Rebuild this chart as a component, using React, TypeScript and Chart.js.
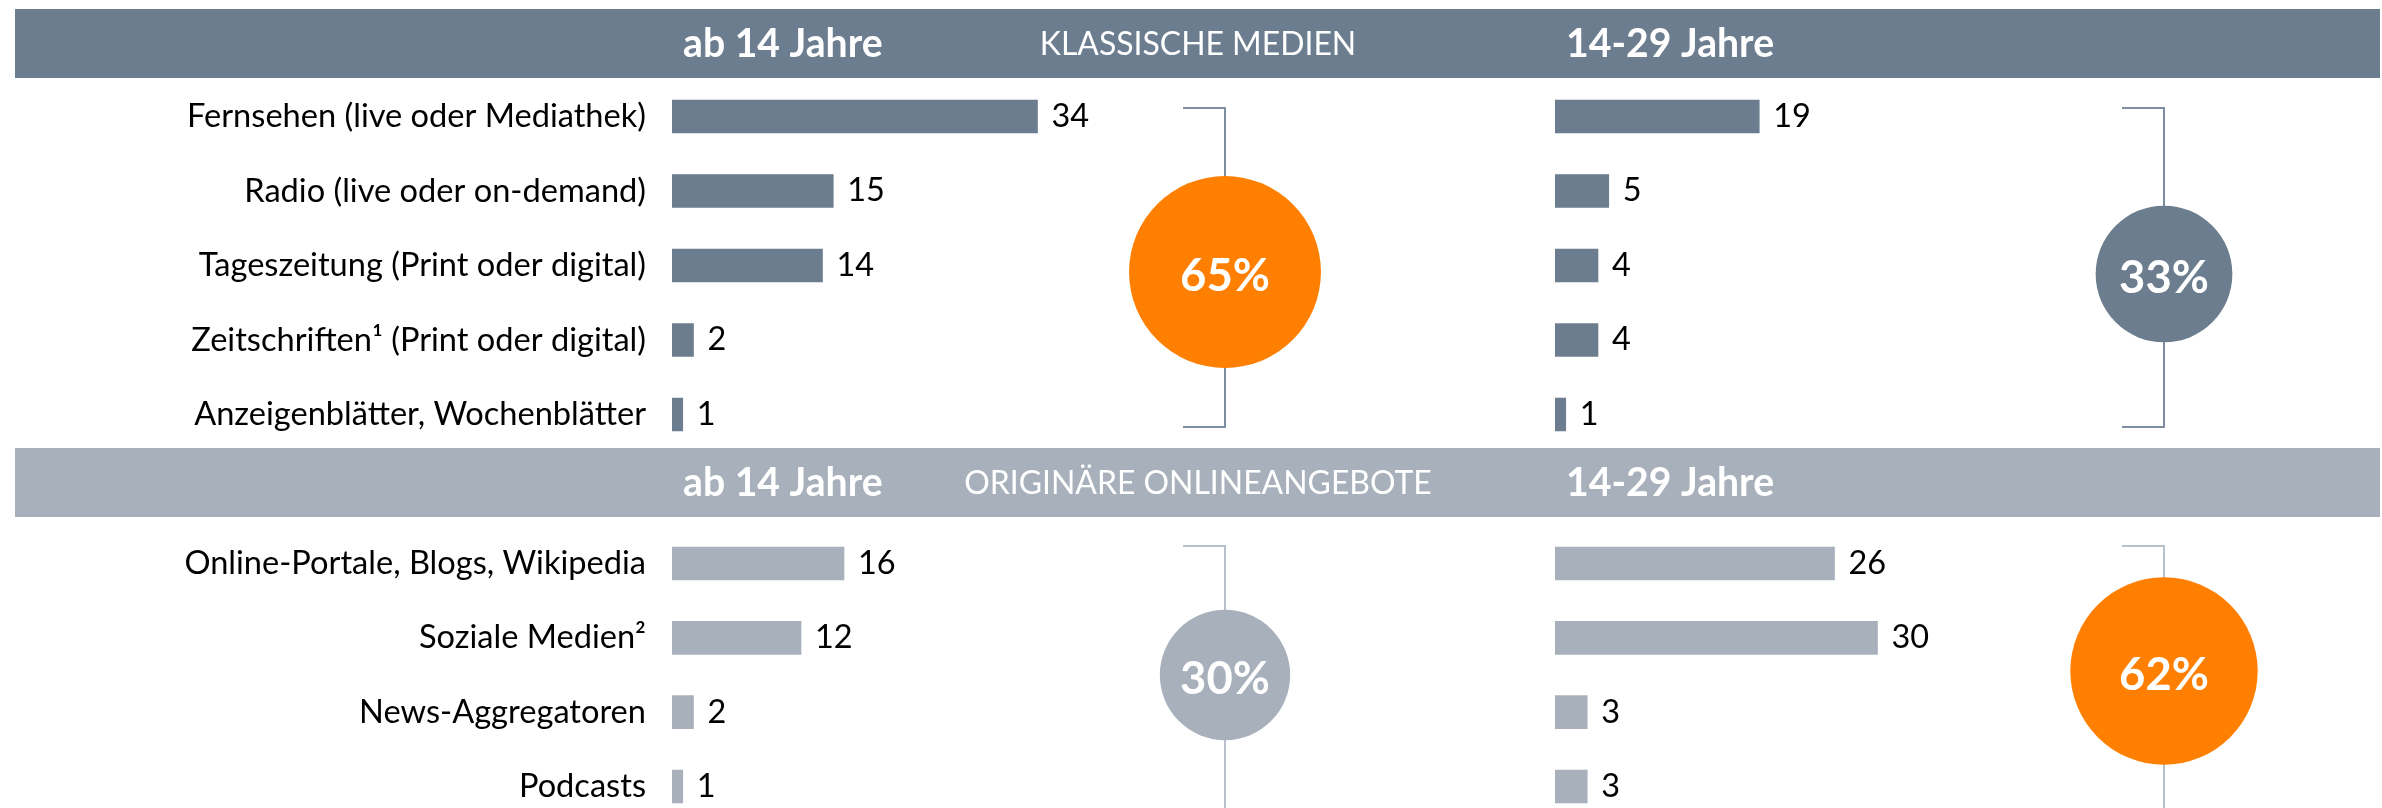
import React, { useEffect, useRef } from 'react';
import { Chart, registerables } from 'chart.js';

Chart.register(...registerables);

// ---------------- data ----------------
const GROUP_LABELS = ['ab 14 Jahre', '14-29 Jahre'];
const SECTION_TITLES = ['KLASSISCHE MEDIEN', 'ORIGINÄRE ONLINEANGEBOTE'];

const CLASSIC_CATEGORIES = [
  'Fernsehen (live oder Mediathek)',
  'Radio (live oder on-demand)',
  'Tageszeitung (Print oder digital)',
  'Zeitschriften¹ (Print oder digital)',
  'Anzeigenblätter, Wochenblätter',
];
const CLASSIC_AB14 = [34, 15, 14, 2, 1];
const CLASSIC_1429 = [19, 5, 4, 4, 1];
const CLASSIC_TOTALS = [65, 33];

const ONLINE_CATEGORIES = [
  'Online-Portale, Blogs, Wikipedia',
  'Soziale Medien²',
  'News-Aggregatoren',
  'Podcasts',
];
const ONLINE_AB14 = [16, 12, 2, 1];
const ONLINE_1429 = [26, 30, 3, 3];
const ONLINE_TOTALS = [30, 62];

// ---------------- layout / style ----------------
const PAGE_W = 2382;
const PAGE_H = 808;
const FONT = 'Lato, "Open Sans", "DejaVu Sans", sans-serif';
const COLOR_CLASSIC = '#6c7d8f';
const COLOR_ONLINE = '#a8b1bb';
const COLOR_HIGHLIGHT = '#ff7f00';
const LINE_CLASSIC = '#7f8ea1';
const LINE_ONLINE = '#b9c2cc';
const TEXT_COLOR = '#000000';

const PX_PER_UNIT = 10.75;
const LEFT_ORIGIN = 672;
const RIGHT_ORIGIN = 1555;
const BAR_THICKNESS = 33;
const LABEL_PAD = 26;
const VALUE_GAP = 14;
const GROUP_LABEL_INSET = 11;
const TITLE_CENTER_X = 1198;
const HEADER_LEFT = 15;
const HEADER_RIGHT = 2380;
const HEADER_HEIGHT = 69;
const BRACKET_ARM = 42;
const RADIUS_PER_SQRT = 11.9;
const CIRCLE_BOX_W = 260;
const CIRCLE_BOX_H = 340;
const CIRCLE_CX = [1225, 2164];

const ROWS = [
  {
    top: 0, height: 452, headerTop: 9, firstCenter: 116.5, spacing: 74.5,
    color: COLOR_CLASSIC, lineColor: LINE_CLASSIC, title: SECTION_TITLES[0],
    categories: CLASSIC_CATEGORIES, a: CLASSIC_AB14, b: CLASSIC_1429, totals: CLASSIC_TOTALS,
    circleCy: [272, 274], bracketTop: 108, bracketBottom: 427,
  },
  {
    top: 440, height: 384, headerTop: 8, firstCenter: 123.5, spacing: 74.33,
    color: COLOR_ONLINE, lineColor: LINE_ONLINE, title: SECTION_TITLES[1],
    categories: ONLINE_CATEGORIES, a: ONLINE_AB14, b: ONLINE_1429, totals: ONLINE_TOTALS,
    circleCy: [675, 671], bracketTop: 546, bracketBottom: 865,
  },
];

function fitFontSize(text: string, weight: string, target: number): number {
  const c = document.createElement('canvas').getContext('2d') as CanvasRenderingContext2D;
  c.font = `${weight} 100px ${FONT}`;
  const m = c.measureText(text);
  const ink = (m.actualBoundingBoxLeft || 0) + (m.actualBoundingBoxRight || m.width);
  return (100 * target) / ink;
}

export default function App() {
  const rowRefs = [useRef<HTMLCanvasElement>(null), useRef<HTMLCanvasElement>(null)];
  const circleRefs = [
    useRef<HTMLCanvasElement>(null),
    useRef<HTMLCanvasElement>(null),
    useRef<HTMLCanvasElement>(null),
    useRef<HTMLCanvasElement>(null),
  ];

  useEffect(() => {
    document.body.style.margin = '0';
    const fonts = {
      cat: fitFontSize('Fernsehen (live oder Mediathek)', 'normal', 455),
      value: fitFontSize('34', 'normal', 35.7),
      headBold: fitFontSize('ab 14 Jahre', 'bold', 198),
      headReg: fitFontSize('KLASSISCHE MEDIEN', 'normal', 311),
      circle: fitFontSize('65%', 'bold', 86.7),
    };
    const charts: Chart[] = [];

    ROWS.forEach((row, ri) => {
      const canvas = rowRefs[ri].current;
      if (!canvas) return;
      const n = row.categories.length;
      const padTop = row.firstCenter - row.spacing / 2;
      const padBottom = row.height - padTop - n * row.spacing;

      const headerPlugin = {
        id: 'header' + ri,
        beforeDraw(chart: any) {
          const ctx = chart.ctx;
          ctx.save();
          ctx.fillStyle = row.color;
          ctx.fillRect(HEADER_LEFT, row.headerTop, HEADER_RIGHT - HEADER_LEFT, HEADER_HEIGHT);
          const cy = row.headerTop + HEADER_HEIGHT / 2 + 1;
          ctx.fillStyle = '#ffffff';
          ctx.textBaseline = 'middle';
          ctx.textAlign = 'left';
          ctx.font = `bold ${fonts.headBold}px ${FONT}`;
          ctx.fillText(GROUP_LABELS[0], chart.scales.xL.left + GROUP_LABEL_INSET, cy);
          ctx.fillText(GROUP_LABELS[1], chart.scales.xR.left + GROUP_LABEL_INSET, cy);
          ctx.font = `${fonts.headReg}px ${FONT}`;
          ctx.textAlign = 'center';
          ctx.fillText(row.title, TITLE_CENTER_X, cy);
          ctx.restore();
        },
      };

      const valuePlugin = {
        id: 'values' + ri,
        afterDatasetsDraw(chart: any) {
          const ctx = chart.ctx;
          ctx.save();
          ctx.font = `${fonts.value}px ${FONT}`;
          ctx.fillStyle = TEXT_COLOR;
          ctx.textBaseline = 'middle';
          ctx.textAlign = 'left';
          chart.data.datasets.forEach((ds: any, di: number) => {
            const meta = chart.getDatasetMeta(di);
            meta.data.forEach((el: any, i: number) => {
              ctx.fillText(String(ds.data[i]), el.x + VALUE_GAP, el.y);
            });
          });
          ctx.restore();
        },
      };

      charts.push(
        new Chart(canvas, {
          type: 'bar',
          data: {
            labels: row.categories,
            datasets: [
              {
                label: GROUP_LABELS[0], data: row.a, xAxisID: 'xL', yAxisID: 'y',
                backgroundColor: row.color, barThickness: BAR_THICKNESS, borderWidth: 0,
              },
              {
                label: GROUP_LABELS[1], data: row.b, xAxisID: 'xR', yAxisID: 'y',
                backgroundColor: row.color, barThickness: BAR_THICKNESS, borderWidth: 0,
              },
            ],
          },
          options: {
            indexAxis: 'y',
            animation: false,
            responsive: false,
            devicePixelRatio: 1,
            events: [],
            layout: { padding: { top: padTop, bottom: padBottom, left: 0, right: 0 } },
            scales: {
              y: {
                type: 'category', axis: 'y', position: 'left', stacked: true,
                grid: { display: false, drawTicks: false },
                border: { display: false },
                ticks: {
                  color: TEXT_COLOR, font: { family: FONT, size: fonts.cat },
                  padding: LABEL_PAD, autoSkip: false,
                },
                afterFit: (s: any) => {
                  s.width = LEFT_ORIGIN;
                  s.paddingTop = 0;
                  s.paddingBottom = 0;
                },
              },
              xL: {
                type: 'linear', axis: 'x', position: 'bottom', stack: 'panels',
                stackWeight: RIGHT_ORIGIN - LEFT_ORIGIN,
                min: 0, max: (RIGHT_ORIGIN - LEFT_ORIGIN) / PX_PER_UNIT, display: false,
              },
              xR: {
                type: 'linear', axis: 'x', position: 'bottom', stack: 'panels',
                stackWeight: PAGE_W - RIGHT_ORIGIN,
                min: 0, max: (PAGE_W - RIGHT_ORIGIN) / PX_PER_UNIT, display: false,
              },
            },
            plugins: { legend: { display: false }, tooltip: { enabled: false }, title: { display: false } },
          } as any,
          plugins: [headerPlugin, valuePlugin],
        })
      );

      // circles (sum bubbles) with brackets
      const maxTotal = Math.max(...row.totals);
      row.totals.forEach((total, gi) => {
        const cref = circleRefs[ri * 2 + gi].current;
        if (!cref) return;
        const cy = row.circleCy[gi];
        const topOff = row.bracketTop - cy;
        const botOff = row.bracketBottom - cy;
        const fill = total === maxTotal ? COLOR_HIGHLIGHT : row.color;

        const bracketPlugin = {
          id: 'bracket',
          beforeDatasetsDraw(chart: any) {
            const el = chart.getDatasetMeta(0).data[0];
            if (!el) return;
            const ctx = chart.ctx;
            ctx.save();
            ctx.strokeStyle = row.lineColor;
            ctx.lineWidth = 2;
            ctx.lineJoin = 'miter';
            ctx.beginPath();
            ctx.moveTo(el.x - BRACKET_ARM, el.y + topOff);
            ctx.lineTo(el.x, el.y + topOff);
            ctx.lineTo(el.x, el.y + botOff);
            ctx.lineTo(el.x - BRACKET_ARM, el.y + botOff);
            ctx.stroke();
            ctx.restore();
          },
        };
        const labelPlugin = {
          id: 'circleLabel',
          afterDatasetsDraw(chart: any) {
            const el = chart.getDatasetMeta(0).data[0];
            if (!el) return;
            const ctx = chart.ctx;
            ctx.save();
            ctx.font = `bold ${fonts.circle}px ${FONT}`;
            ctx.fillStyle = '#ffffff';
            ctx.textAlign = 'center';
            ctx.textBaseline = 'alphabetic';
            const txt = `${total}%`;
            const m = ctx.measureText(txt);
            const asc = m.actualBoundingBoxAscent;
            const desc = m.actualBoundingBoxDescent;
            ctx.fillText(txt, el.x, el.y + 2 + (asc - desc) / 2);
            ctx.restore();
          },
        };

        charts.push(
          new Chart(cref, {
            type: 'bubble',
            data: {
              datasets: [
                {
                  label: `${row.title} ${GROUP_LABELS[gi]}`,
                  data: [{ x: 0, y: 0, r: RADIUS_PER_SQRT * Math.sqrt(total) }],
                  backgroundColor: fill,
                  borderWidth: 0,
                  clip: false,
                } as any,
              ],
            },
            options: {
              animation: false,
              responsive: false,
              devicePixelRatio: 1,
              events: [],
              layout: { padding: 0, autoPadding: false },
              scales: {
                x: { type: 'linear', min: -1, max: 1, display: false },
                y: { type: 'linear', min: -1, max: 1, display: false },
              },
              plugins: { legend: { display: false }, tooltip: { enabled: false } },
            } as any,
            plugins: [bracketPlugin, labelPlugin],
          })
        );
      });
    });

    return () => {
      charts.forEach((c) => c.destroy());
    };
  }, []);

  return (
    <div
      style={{
        position: 'fixed', left: 0, top: 0, width: PAGE_W, height: PAGE_H,
        overflow: 'hidden', background: '#ffffff',
      }}
    >
      {ROWS.map((row, ri) => (
        <canvas
          key={'row' + ri}
          ref={rowRefs[ri]}
          width={PAGE_W}
          height={row.height}
          style={{ position: 'absolute', left: 0, top: row.top }}
        />
      ))}
      {ROWS.map((row, ri) =>
        row.totals.map((t, gi) => (
          <canvas
            key={'c' + ri + gi}
            ref={circleRefs[ri * 2 + gi]}
            width={CIRCLE_BOX_W}
            height={CIRCLE_BOX_H}
            style={{
              position: 'absolute',
              left: CIRCLE_CX[gi] - CIRCLE_BOX_W / 2,
              top: row.circleCy[gi] - CIRCLE_BOX_H / 2,
            }}
          />
        ))
      )}
    </div>
  );
}
